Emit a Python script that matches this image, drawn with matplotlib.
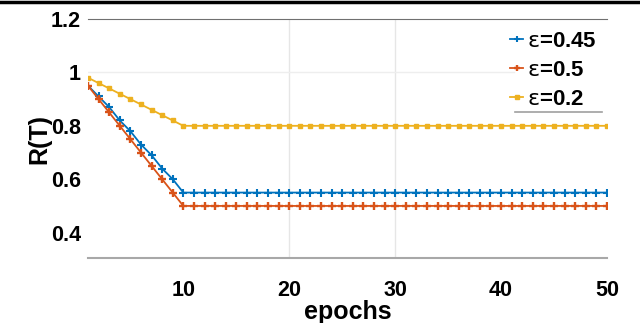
# R(T) vs epochs for three epsilon values
import matplotlib
matplotlib.use('Agg')
import matplotlib.pyplot as plt
from matplotlib.lines import Line2D

# data
epochs = list(range(1, 51))
r_045 = [0.95, 0.91, 0.87, 0.82, 0.78, 0.73, 0.69, 0.64, 0.60, 0.55] + [0.55] * 40
r_05 = [0.95, 0.90, 0.85, 0.80, 0.75, 0.70, 0.65, 0.60, 0.55, 0.50] + [0.50] * 40
r_02 = [0.98, 0.96, 0.94, 0.92, 0.90, 0.88, 0.86, 0.84, 0.82, 0.80] + [0.80] * 40
labels = [r'$\epsilon$=0.45', r'$\epsilon$=0.5', r'$\epsilon$=0.2']
xticks = [10, 20, 30, 40, 50]
yticks = [0.4, 0.6, 0.8, 1.0, 1.2]
ytick_labels = ['0.4', '0.6', '0.8', '1', '1.2']

plt.rcParams['font.family'] = ['Liberation Sans', 'DejaVu Sans']
plt.rcParams['font.weight'] = 'bold'
# epsilon drawn in a plain (not bold) face like the original
plt.rcParams['mathtext.fontset'] = 'custom'
plt.rcParams['mathtext.it'] = 'DejaVu Sans:style=normal:weight=normal'
plt.rcParams['mathtext.rm'] = 'DejaVu Sans:style=normal:weight=normal'

fig = plt.figure(figsize=(6.4, 3.23), dpi=100)
W, H = 640, 323
ax = fig.add_axes([88 / W, 1 - 258 / H, (607 - 88) / W, (258 - 19) / H])

blue, red, yellow = '#0072BD', '#D95319', '#EDB120'
ax.plot(epochs, r_045, color=blue, lw=1.3, marker='+', ms=6, mew=1.5, label=labels[0], zorder=3)
ax.plot(epochs, r_05, color=red, lw=1.3, marker='+', ms=6, mew=1.7, label=labels[1], zorder=3)
ax.plot(epochs, r_02, color=yellow, lw=1.3, marker='s', ms=3.2, label=labels[2], zorder=3)

ax.set_xlim(1, 50)
ax.set_ylim(0.305, 1.2)

# partial grid as in the original
for gx in [20, 30]:
    ax.axvline(gx, color='#e6e6e6', lw=1, zorder=0)
ax.axhline(1.0, xmax=0.82, color='#eeeeee', lw=1, zorder=0)

ax.set_xticks(xticks)
ax.set_yticks(yticks)
ax.set_yticklabels(ytick_labels)
ax.tick_params(axis='both', length=0, labelsize=15.5)
ax.tick_params(axis='x', pad=16)
ax.tick_params(axis='y', pad=5)
ax.set_xticks([20, 30], minor=True)
ax.set_yticks([1.0], minor=True)
ax.tick_params(which='minor', direction='in', length=4, color='#909090',
               top=True, bottom=True, left=True, right=True)

for s in ['left', 'right']:
    ax.spines[s].set_visible(False)
ax.spines['top'].set_color('#707070')
ax.spines['bottom'].set_color('#a8a8a8')
ax.spines['bottom'].set_linewidth(1.5)

ax.set_xlabel('epochs', fontsize=18, fontweight='bold', labelpad=-1)
ax.set_ylabel('R(T)', fontsize=18, fontweight='bold', labelpad=0)

leg = ax.legend(loc='upper left', bbox_to_anchor=(510 / W, 1 - 31 / H),
                bbox_transform=fig.transFigure, frameon=False, fontsize=16,
                handlelength=0.6, handletextpad=0.15, labelspacing=0.35,
                borderpad=0, borderaxespad=0, markerscale=0.7)

# underline under the legend and the top border line
fig.add_artist(Line2D([515 / W, 602 / W], [1 - 112 / H] * 2, color='#a0a0a0', lw=1.2))
fig.add_artist(Line2D([0, 1], [1 - 1.5 / H] * 2, color='black', lw=2.5))

fig.savefig('out.png', dpi=100)
